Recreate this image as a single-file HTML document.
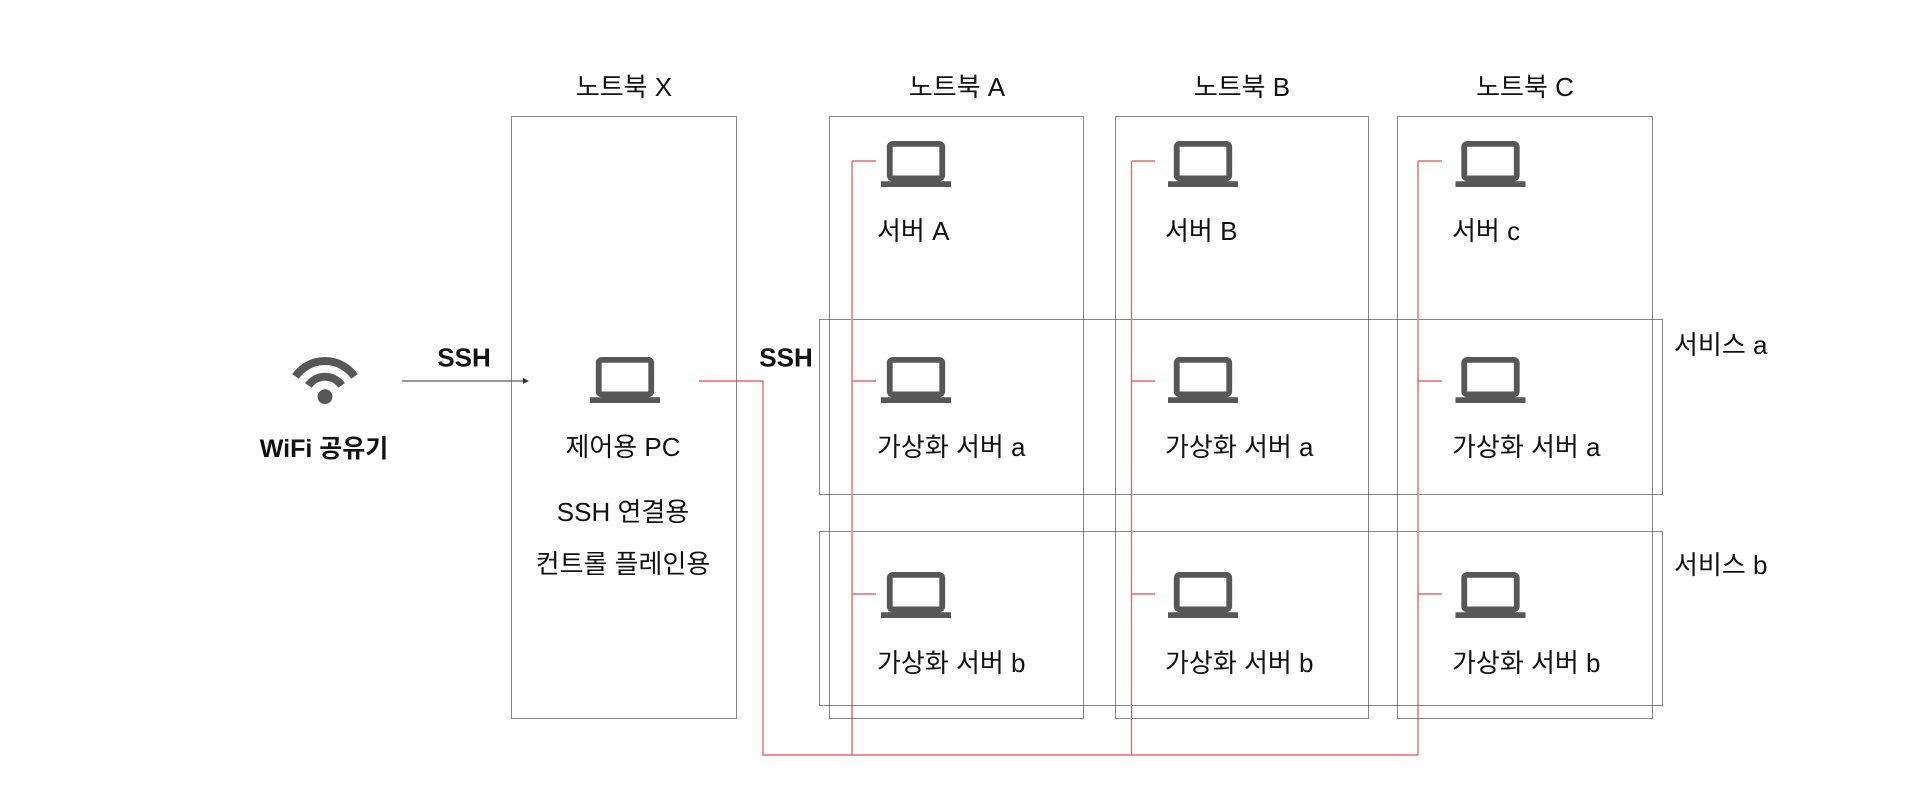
<!DOCTYPE html>
<html lang="ko">
<head>
<meta charset="utf-8">
<style>
  html,body{margin:0;padding:0;background:#fff;}
  body{width:1920px;height:808px;overflow:hidden;}
  svg{display:block;}
  text{font-family:"Liberation Sans","Noto Sans CJK KR",sans-serif;fill:#111;}
  .t{font-size:26px;}
  .b{font-size:26px;font-weight:bold;}
  .box{fill:none;stroke:#111;stroke-width:1;stroke-dasharray:1 1;shape-rendering:crispEdges;}
  .red{fill:none;stroke:#e66a69;stroke-width:1.4;}
</style>
</head>
<body>
<svg width="1920" height="808" viewBox="0 0 1920 808" xmlns="http://www.w3.org/2000/svg">
  <defs>
    <g id="lap">
      <path fill="#575757" fill-rule="evenodd" transform="translate(0,-11.5) scale(2.9167,2.875)" d="M20 18c1.1 0 1.99-.9 1.99-2L22 6c0-1.1-.9-2-2-2H4c-1.1 0-2 .9-2 2v10c0 1.1.9 2 2 2H0v2h24v-2h-4zM4 6h16v10H4V6z"/>
    </g>
  </defs>

  <!-- dotted boxes -->
  <rect class="box" x="511.5" y="116.5" width="225" height="602"/>
  <rect class="box" x="829.5" y="116.5" width="254" height="602"/>
  <rect class="box" x="1115.5" y="116.5" width="253" height="602"/>
  <rect class="box" x="1397.5" y="116.5" width="255" height="602"/>
  <rect class="box" x="819.5" y="319.5" width="843" height="175"/>
  <rect class="box" x="819.5" y="531.5" width="843" height="174"/>

  <!-- red connectors -->
  <path class="red" d="M699 381 H763 V755 H1418"/>
  <path class="red" d="M852 161 V755 M852 161 H876 M852 381 H876 M852 594 H876"/>
  <path class="red" d="M1131.5 161 V755 M1131.5 161 H1155 M1131.5 381 H1155 M1131.5 594 H1155"/>
  <path class="red" d="M1418 161 V755 M1418 161 H1442 M1418 381 H1442 M1418 594 H1442"/>

  <!-- arrow wifi -> pc -->
  <line x1="402" y1="381" x2="524" y2="381" stroke="#777" stroke-width="1.6"/>
  <path d="M523 378 L529 381 L523 384 Z" fill="#333"/>

  <!-- wifi icon -->
  <g fill="none" stroke="#575757" stroke-width="8">
    <path d="M295.5 376.4 A36 36 0 0 1 354.5 376.4"/>
    <path d="M308.4 385.4 A20.3 20.3 0 0 1 341.6 385.4"/>
  </g>
  <circle cx="325" cy="396.7" r="7.4" fill="#575757"/>

  <!-- laptops -->
  <use href="#lap" x="590" y="357"/>
  <use href="#lap" x="881" y="141"/>
  <use href="#lap" x="881" y="357"/>
  <use href="#lap" x="881" y="572"/>
  <use href="#lap" x="1168" y="141"/>
  <use href="#lap" x="1168" y="357"/>
  <use href="#lap" x="1168" y="572"/>
  <use href="#lap" x="1455.5" y="141"/>
  <use href="#lap" x="1455.5" y="357"/>
  <use href="#lap" x="1455.5" y="572"/>

  <!-- headers -->
  <text class="t" x="624" y="96" text-anchor="middle">노트북 X</text>
  <text class="t" x="957" y="96" text-anchor="middle">노트북 A</text>
  <text class="t" x="1242" y="96" text-anchor="middle">노트북 B</text>
  <text class="t" x="1525" y="96" text-anchor="middle">노트북 C</text>

  <!-- left -->
  <text class="b" x="464" y="366.5" text-anchor="middle">SSH</text>
  <text class="b" x="786" y="366.5" text-anchor="middle">SSH</text>
  <text class="b" x="324" y="457" text-anchor="middle" style="font-size:25px">WiFi 공유기</text>

  <!-- notebook X text -->
  <text class="t" x="623" y="456" text-anchor="middle">제어용 PC</text>
  <text class="t" x="623" y="521" text-anchor="middle">SSH 연결용</text>
  <text class="t" x="623" y="573" text-anchor="middle">컨트롤 플레인용</text>

  <!-- server labels -->
  <text class="t" x="877" y="240">서버 A</text>
  <text class="t" x="877" y="456">가상화 서버 a</text>
  <text class="t" x="877" y="672">가상화 서버 b</text>

  <text class="t" x="1165" y="240">서버 B</text>
  <text class="t" x="1165" y="456">가상화 서버 a</text>
  <text class="t" x="1165" y="672">가상화 서버 b</text>

  <text class="t" x="1452" y="240">서버 c</text>
  <text class="t" x="1452" y="456">가상화 서버 a</text>
  <text class="t" x="1452" y="672">가상화 서버 b</text>

  <!-- service labels -->
  <text class="t" x="1674" y="354">서비스 a</text>
  <text class="t" x="1674" y="574">서비스 b</text>
</svg>
</body>
</html>
